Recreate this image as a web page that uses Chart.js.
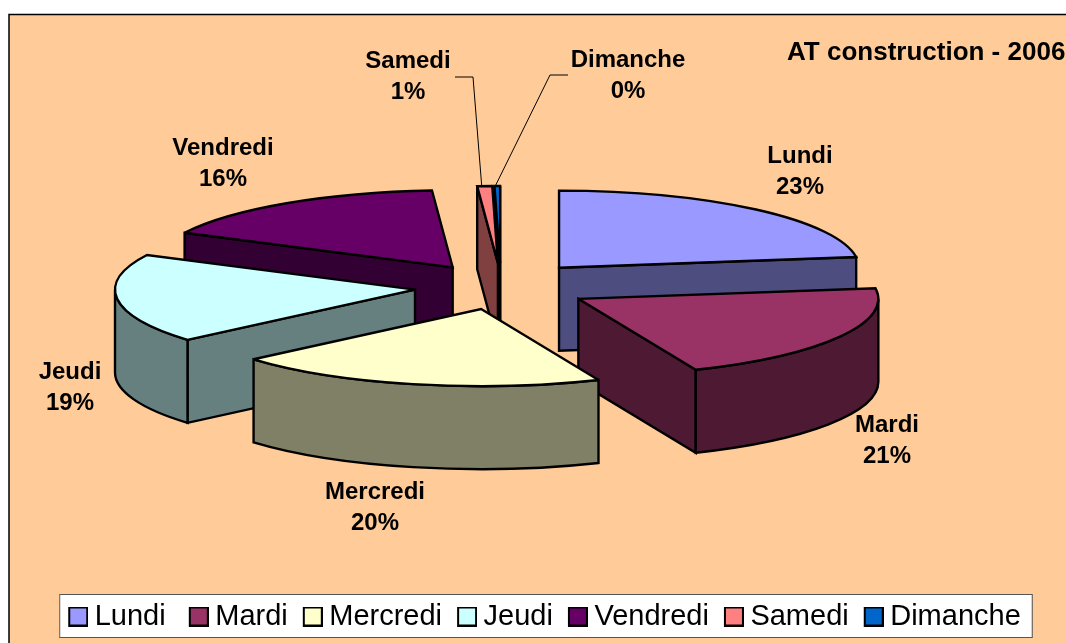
<!DOCTYPE html>
<html><head><meta charset="utf-8">
<style>html,body{margin:0;padding:0;background:#fff;overflow:hidden}canvas{display:block}</style>
<script src="https://cdn.jsdelivr.net/npm/chart.js@4/dist/chart.umd.min.js"></script>
</head><body><canvas id="c" width="1066" height="643"></canvas>
<script>
const categories = ['Lundi ', 'Mardi', 'Mercredi', 'Jeudi', 'Vendredi', 'Samedi', 'Dimanche'];
const values = [22.8, 20.8, 20.1, 18.71, 16.49, 0.8, 0.3];
const title = 'AT construction - 2006';
const topColors = ['#9999FF', '#993366', '#FFFFCC', '#CCFFFF', '#660066', '#FF8080', '#0066CC'];
const wallColors = ['#4D4D80', '#4D1933', '#808066', '#668080', '#330033', '#804040', '#003366'];
const explode = [94.5, 93.5, 70, 82.6, 80, 93, 93];
const nudge = [[0, -1], [0, 0], [0, 4.5], [0, 0], [0, -2.5], [5, 0], [4, 0]];
const labelCentres = [[800, 156], [887, 425], [375, 492], [70, 372], [223, 148], [408, 61], [628, 60]];
const leaders = {5: [[455, 77], [473, 77]], 6: [[568, 75], [550, 75]]};
const leaderTipShift = {5: -3, 6: -2};
const view = {cx: 497, cy: 287, squash: 0.257, depth: 83, radius: 300};
const FONT = '"Liberation Sans", Arial, sans-serif';
const total = values.reduce((a, b) => a + b, 0);

function swatch(color) {
  const c = document.createElement('canvas');
  c.width = 30; c.height = 20;
  const g = c.getContext('2d');
  g.fillStyle = '#000'; g.fillRect(10, 0, 20, 20);
  g.fillStyle = color; g.fillRect(12, 2, 16, 16);
  return c;
}
function apex(a, i) {
  const m = (a.startAngle + a.endAngle) / 2;
  return [view.cx + explode[i] * Math.cos(m) + nudge[i][0], view.cy + view.squash * explode[i] * Math.sin(m) + nudge[i][1]];
}

const pie3d = {
  id: 'pie3d',
  beforeDraw(chart) {
    const {ctx, width, height} = chart;
    ctx.save();
    ctx.fillStyle = '#fff'; ctx.fillRect(0, 0, width, height);
    ctx.fillStyle = '#FFCC99'; ctx.fillRect(9, 14, width, height);
    ctx.strokeStyle = '#000'; ctx.lineWidth = 1.5;
    ctx.beginPath(); ctx.moveTo(9, height + 2); ctx.lineTo(9, 14.5); ctx.lineTo(width + 2, 14.5); ctx.stroke();
    const boxes = chart.legend.legendHitBoxes;
    const x0 = Math.min(...boxes.map(b => b.left));
    const x1 = Math.max(...boxes.map(b => b.left + b.width));
    const y0 = boxes[0].top;
    const bx = x0 - 7, bw = x1 - x0 + 18, by = y0 - 8, bh = 43;
    ctx.fillStyle = '#fff'; ctx.fillRect(bx, by, bw, bh);
    ctx.strokeStyle = '#555'; ctx.lineWidth = 1; ctx.strokeRect(bx + .5, by + .5, bw, bh);
    ctx.restore();
  },
  beforeDatasetDraw(chart, args) {
    const {ctx} = chart;
    const arcs = chart.getDatasetMeta(args.index).data;
    const k = view.squash, D = view.depth;
    const order = arcs.map((a, i) => i).sort((p, q) =>
      Math.sin((arcs[p].startAngle + arcs[p].endAngle) / 2) - Math.sin((arcs[q].startAngle + arcs[q].endAngle) / 2));
    ctx.save();
    ctx.lineWidth = 2.4; ctx.lineJoin = 'miter'; ctx.miterLimit = 3; ctx.strokeStyle = '#000';
    for (const i of order) {
      const a = arcs[i], s = a.startAngle, e = a.endAngle, r = a.outerRadius;
      const [ax, ay] = apex(a, i);
      const pt = t => [ax + r * Math.cos(t), ay + k * r * Math.sin(t)];
      const face = t => {
        const p = pt(t);
        ctx.beginPath(); ctx.moveTo(ax, ay); ctx.lineTo(p[0], p[1]); ctx.lineTo(p[0], p[1] + D); ctx.lineTo(ax, ay + D); ctx.closePath();
        ctx.fillStyle = wallColors[i]; ctx.fill(); ctx.stroke();
      };
      if (Math.cos(s) < 0) face(s);
      if (Math.cos(e) > 0) face(e);
      const lo = Math.max(s, 0), hi = Math.min(e, Math.PI);
      if (hi > lo) {
        ctx.beginPath();
        ctx.ellipse(ax, ay, r, r * k, 0, lo, hi);
        ctx.ellipse(ax, ay + D, r, r * k, 0, hi, lo, true);
        ctx.closePath();
        ctx.fillStyle = wallColors[i]; ctx.fill(); ctx.stroke();
      }
      ctx.save();
      ctx.translate(ax, ay); ctx.scale(1, k); ctx.translate(-a.x, -a.y);
      a.draw(ctx, chart.chartArea);
      ctx.restore();
      ctx.beginPath(); ctx.moveTo(ax, ay); ctx.ellipse(ax, ay, r, r * k, 0, s, e); ctx.closePath(); ctx.stroke();
    }
    ctx.restore();
    return false;
  },
  afterDatasetsDraw(chart) {
    const {ctx} = chart;
    const arcs = chart.getDatasetMeta(0).data;
    ctx.save();
    ctx.strokeStyle = '#000'; ctx.lineWidth = 1;
    for (const key of Object.keys(leaders)) {
      const i = +key, a = arcs[i], m = (a.startAngle + a.endAngle) / 2;
      const [ax, ay] = apex(a, i);
      const tx = ax + a.outerRadius * Math.cos(m) + leaderTipShift[i], ty = ay + view.squash * a.outerRadius * Math.sin(m);
      ctx.beginPath(); ctx.moveTo(leaders[i][0][0], leaders[i][0][1]); ctx.lineTo(leaders[i][1][0], leaders[i][1][1]); ctx.lineTo(tx, ty); ctx.stroke();
    }
    ctx.fillStyle = '#000'; ctx.font = 'bold 24px ' + FONT; ctx.textAlign = 'center'; ctx.textBaseline = 'middle';
    categories.forEach((name, i) => {
      const [x, y] = labelCentres[i];
      ctx.fillText(name.trim(), x, y);
      ctx.fillText(Math.round(values[i] / total * 100) + '%', x, y + 31);
    });
    ctx.textAlign = 'left';
    ctx.font = 'bold 26px ' + FONT;
    ctx.fillText(title, 787, 53);
    ctx.restore();
  }
};

new Chart(document.getElementById('c'), {
  type: 'pie',
  data: {labels: categories, datasets: [{data: values, backgroundColor: topColors, borderWidth: 0, clip: false}]},
  plugins: [pie3d],
  options: {
    responsive: false, animation: false, radius: view.radius,
    layout: {padding: {left: 21, bottom: 2}},
    events: [],
    plugins: {
      tooltip: {enabled: false},
      legend: {
        position: 'bottom',
        labels: {
          font: {family: FONT, size: 29}, color: '#000', usePointStyle: true, pointStyleWidth: 14, boxHeight: 20, padding: 13,
          generateLabels: chart => categories.map((t, i) => ({text: t, pointStyle: swatch(topColors[i]), index: i, hidden: false, lineWidth: 0, fillStyle: topColors[i], strokeStyle: '#000'}))
        }
      }
    }
  }
});
</script></body></html>
